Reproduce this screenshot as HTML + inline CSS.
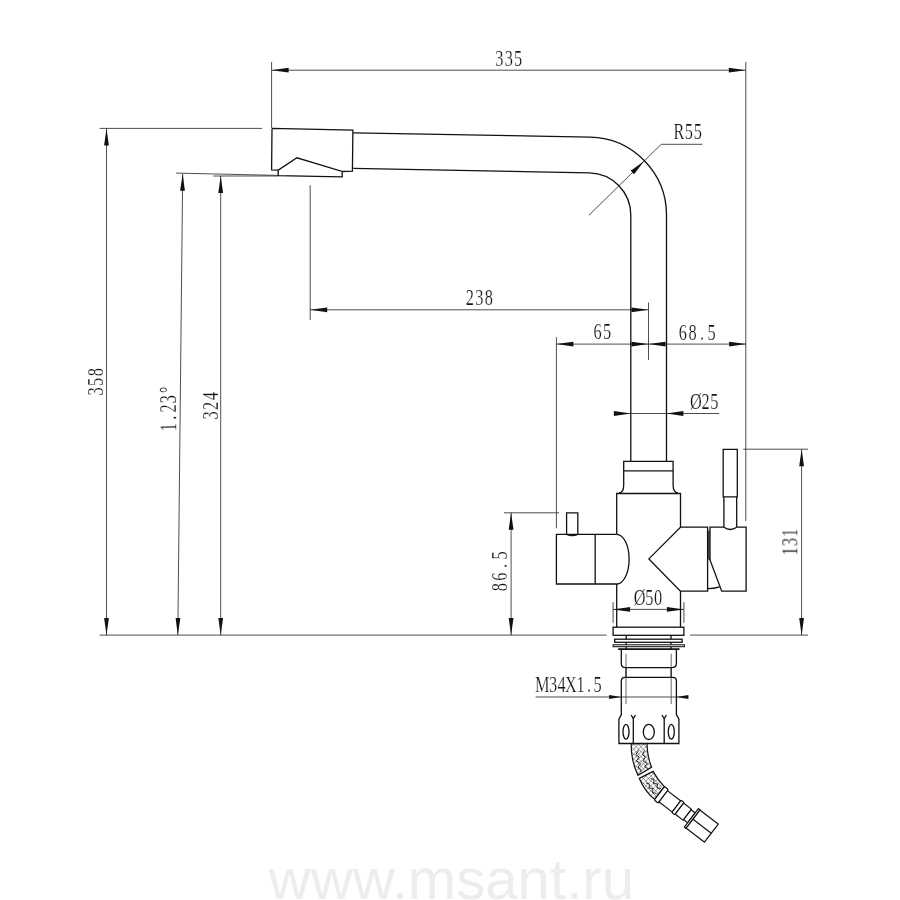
<!DOCTYPE html>
<html lang="ru"><head><meta charset="utf-8"><title>msant.ru</title>
<style>
html,body{margin:0;padding:0;background:#fff;}
body{width:900px;height:900px;overflow:hidden;}
svg{display:block;}
.m{fill:none;stroke:#111;stroke-width:1.3;stroke-linejoin:miter;stroke-linecap:butt;}
.mw{fill:#fff;stroke:#111;stroke-width:1.2;}
.d{fill:none;stroke:#222;stroke-width:0.8;}
.t{fill:none;stroke:#444;stroke-width:0.8;}
.a{fill:#111;stroke:none;}
.tx{font-family:"Liberation Serif",serif;font-size:24px;fill:#151515;stroke:#fff;stroke-width:.22;text-anchor:middle;opacity:.999;}
.wm{font-family:"Liberation Sans",sans-serif;font-size:57px;fill:#ededed;}
.h{fill:none;stroke:#333;stroke-width:0.5;}
</style></head><body>
<svg width="900" height="900" viewBox="0 0 900 900">
<rect width="900" height="900" fill="#fff"/>

<text class="wm" x="268.6" y="898.7" textLength="365.5" lengthAdjust="spacingAndGlyphs">www.msant.ru</text>
<g class="d">
<path d="M271.6,62 V128 M745.8,62 V521.1 M271.6,70.2 H745.8"/>
<path d="M99.6,128.4 H262.1 M106.5,128.4 V635.1"/>
<path d="M176.1,173.1 L278,175.4 M182.7,173.8 L177.8,635.1"/>
<path d="M213.2,176 H278 M220.7,176 V635.1"/>
<path d="M99.6,635.1 H606.6 M690.1,635.1 H808"/>
<path d="M310.2,185.3 V320 M310.2,309.8 H648.5 M648.5,302.5 V360"/>
<path d="M556.4,337.2 V528.2 M556.4,344.1 H746.1"/>
<path d="M613.8,413.5 H719.2"/>
<path d="M504,512.8 H559.1 M511.1,512.8 V635.1"/>
<path d="M613.1,602.2 V622.8 M683.9,602.2 V622.8 M613.1,609.4 H683.9"/>
<path d="M743.2,449.2 H808 M801.6,449.2 V635"/>
<path d="M535.6,697 H688.2"/>
<path d="M702.4,144.3 H661.2 L589,215.2"/>
</g>
<g class="a">
<polygon points="271.6,70.2 288.6,67.8 288.6,72.6"/>
<polygon points="745.8,70.2 728.8,72.6 728.8,67.8"/>
<polygon points="106.5,128.4 108.9,145.4 104.1,145.4"/>
<polygon points="106.5,635.1 104.1,618.1 108.9,618.1"/>
<polygon points="182.7,173.8 184.9,190.8 180.1,190.8"/>
<polygon points="177.8,635.1 175.6,618.1 180.4,618.1"/>
<polygon points="220.7,176.0 223.1,193.0 218.3,193.0"/>
<polygon points="220.7,635.1 218.3,618.1 223.1,618.1"/>
<polygon points="310.2,309.8 327.2,307.4 327.2,312.2"/>
<polygon points="648.5,309.8 631.5,312.2 631.5,307.4"/>
<polygon points="556.4,344.1 573.4,341.7 573.4,346.5"/>
<polygon points="648.5,344.1 631.5,346.5 631.5,341.7"/>
<polygon points="648.5,344.1 665.5,341.7 665.5,346.5"/>
<polygon points="746.1,344.1 729.1,346.5 729.1,341.7"/>
<polygon points="630.9,413.5 613.9,415.9 613.9,411.1"/>
<polygon points="666.4,413.5 683.4,411.1 683.4,415.9"/>
<polygon points="511.1,512.8 513.5,529.8 508.7,529.8"/>
<polygon points="511.1,635.1 508.7,618.1 513.5,618.1"/>
<polygon points="613.1,609.4 630.1,607.0 630.1,611.8"/>
<polygon points="683.9,609.4 666.9,611.8 666.9,607.0"/>
<polygon points="801.6,449.2 804.0,466.2 799.2,466.2"/>
<polygon points="801.6,635.0 799.2,618.0 804.0,618.0"/>
<polygon points="621.3,697.0 609.1,699.0 609.1,695.0"/>
<polygon points="676.4,697.0 688.4,695.0 688.4,699.0"/>
<polygon points="644.2,160.9 634.1,174.2 630.7,170.7"/>
</g>
<g class="tx">
<text transform="translate(508.8,65.5) scale(0.68,1)" x="-13.8 0.0 13.8" y="0">335</text>
<text transform="translate(479.3,305.0) scale(0.68,1)" x="-14.1 0.0 14.1" y="0">238</text>
<text transform="translate(602.3,339.0) scale(0.68,1)" x="-7.1 7.1" y="0">65</text>
<text transform="translate(697.3,339.5) scale(0.68,1)" x="-21.1 -7.0 7.0 21.1" y="0">68.5</text>
<text transform="translate(704.7,408.6) scale(0.68,1)" x="-12.9 1.4 14.3" y="0">Ø25</text>
<text transform="translate(648.4,604.7) scale(0.68,1)" x="-12.9 1.4 14.3" y="0">Ø50</text>
<text transform="translate(688.0,139.3) scale(0.68,1)" x="-13.3 1.2 14.5" y="0">R55</text>
<text transform="translate(568.7,692.2) scale(0.68,1)" x="-39.0 -23.0 -10.5 3.4 17.4 29.9 42.4" y="0">M34X1.5</text>
<text transform="translate(103.1,381.8) rotate(-90) scale(0.68,1)" x="-14.2 0.0 14.2" y="0">358</text>
<text transform="translate(176.0,408.4) rotate(-90.6) scale(0.68,1)" x="-27.5 -13.7 -0.0 13.7 27.5" y="0">1.23°</text>
<text transform="translate(218.0,405.8) rotate(-90) scale(0.68,1)" x="-14.0 0.0 14.0" y="0">324</text>
<text transform="translate(507.0,571.3) rotate(-90) scale(0.68,1)" x="-23.3 -7.8 7.8 23.3" y="0">86.5</text>
<text transform="translate(797.3,542.0) rotate(-90) scale(0.68,1)" x="-13.5 0.0 13.5" y="0">131</text>
</g>
<g class="m">
<path d="M272,128.4 L352.9,130.2 L352.4,171.1 L342.2,171.5 M278.2,170.2 L271.6,169.9 L272,128.4"/>
<path d="M278.2,170.2 V175.6 L342.2,176.8 V171.5 L296.9,157.8 Z"/>
<path d="M353.3,132.9 L590,137.1 A78,78 0 0 1 666.5,215.1 V461.3"/>
<path d="M353.3,168.4 L589.3,172.8 A42.3,42.3 0 0 1 630.8,215.1 V461.3"/>
<path d="M623.7,485 V461.3 H673.1 V485 M623.7,470.8 H673.1"/>
<path d="M623.7,485 Q623.7,492.8 619,492.8 M673.1,485 Q673.1,492.8 678,492.8"/>
<path d="M616.7,534.3 V493.5 H680.5 V527.2 L648.9,558.9 L680.5,591.2 V626.9 M616.7,584 V626.9"/>
<path d="M616.7,534.3 H556.4 V584 H616.7 M595.2,534.3 V584" />
<path d="M616.7,534.3 A12.4,24.85 0 0 1 616.7,584"/>
<path d="M566.6,534.3 V512.8 H577.8 V534.3 M566.6,534.3 Q572.2,537 577.8,534.3"/>
<path d="M680.5,527.2 H707.6 V591.2 H680.5"/>
<path d="M723.9,527.2 H710 V560 L721.7,591.2 H746.1 V527.2 H736.7"/>
<path d="M723.9,527.2 Q730.3,531.8 736.7,527.2 M708.9,530.6 V558.5 L710,560 M707.6,588.7 Q714,588.6 719.6,586.8"/>
<path d="M723.2,449.3 H737.3 V496.8 H723.2 Z M723.9,496.8 V527.2 M736.7,496.8 V527.2"/>
<rect x="613.1" y="627.2" width="70.8" height="8.1"/>
<path d="M626.2,635.3 V649 M671,635.3 V649" style="stroke-width:1.3"/>
<rect x="614.7" y="639.2" width="67.4" height="3.1" style="fill:#fff;stroke-width:1.3"/>
<rect x="613.1" y="644.8" width="71.3" height="1.9" style="fill:#fff;stroke-width:1.05"/>
<path d="M618.2,649.1 H679.5" style="stroke-width:1.85"/>
<path d="M621.3,649.8 V663.5 Q621.3,667.7 626,667.7 H671.2 Q676.4,667.7 676.4,663.5 V649.8 M626,667.7 V677.4 M671.2,667.7 V677.4"/>
<path d="M621.3,714.6 V681 Q621.3,677.4 624.9,677.4 H672.8 Q676.4,677.4 676.4,681 V714.6 L678.9,719.1 V743.5 H618.9 V719.1 Z"/>
<path d="M633.3,743.5 V718.7 L631.2,715 M633.3,718.7 L635.5,715 M664.2,743.5 V718.7 L662,715 M664.2,718.7 L666.4,715"/>
<ellipse cx="626" cy="731.7" rx="3" ry="7.4"/><ellipse cx="648.8" cy="731.9" rx="5.5" ry="7.6"/><ellipse cx="671.3" cy="731.7" rx="3" ry="7.4"/>
</g>
<g class="t"><path d="M626,653.9 V704 M671.2,653.9 V704"/></g>
<defs><clipPath id="ca"><path d="M631.2,743.6 C631.0,755 633,765 637.9,775.3 L651.6,767.2 C648.5,760 647.2,752 647,743.6 Z"/></clipPath><clipPath id="cb"><path d="M639.3,778.4 C643,787 648,794 654.7,799.4 L664.4,786.6 C659.5,782 656,777 653.1,771.4 Z"/></clipPath></defs>
<g clip-path="url(#ca)" class="h"><path d="M453.0,740 l70,70 M535.0,740 l-70,70 M457.9,740 l70,70 M539.9,740 l-70,70 M462.8,740 l70,70 M544.8,740 l-70,70 M467.7,740 l70,70 M549.7,740 l-70,70 M472.6,740 l70,70 M554.6,740 l-70,70 M477.5,740 l70,70 M559.5,740 l-70,70 M482.4,740 l70,70 M564.4,740 l-70,70 M487.3,740 l70,70 M569.3,740 l-70,70 M492.2,740 l70,70 M574.2,740 l-70,70 M497.1,740 l70,70 M579.1,740 l-70,70 M502.0,740 l70,70 M584.0,740 l-70,70 M506.9,740 l70,70 M588.9,740 l-70,70 M511.8,740 l70,70 M593.8,740 l-70,70 M516.7,740 l70,70 M598.7,740 l-70,70 M521.6,740 l70,70 M603.6,740 l-70,70 M526.5,740 l70,70 M608.5,740 l-70,70 M531.4,740 l70,70 M613.4,740 l-70,70 M536.3,740 l70,70 M618.3,740 l-70,70 M541.2,740 l70,70 M623.2,740 l-70,70 M546.1,740 l70,70 M628.1,740 l-70,70 M551.0,740 l70,70 M633.0,740 l-70,70 M555.9,740 l70,70 M637.9,740 l-70,70 M560.8,740 l70,70 M642.8,740 l-70,70 M565.7,740 l70,70 M647.7,740 l-70,70 M570.6,740 l70,70 M652.6,740 l-70,70 M575.5,740 l70,70 M657.5,740 l-70,70 M580.4,740 l70,70 M662.4,740 l-70,70 M585.3,740 l70,70 M667.3,740 l-70,70 M590.2,740 l70,70 M672.2,740 l-70,70 M595.1,740 l70,70 M677.1,740 l-70,70 M600.0,740 l70,70 M682.0,740 l-70,70 M604.9,740 l70,70 M686.9,740 l-70,70 M609.8,740 l70,70 M691.8,740 l-70,70 M614.7,740 l70,70 M696.7,740 l-70,70 M619.6,740 l70,70 M701.6,740 l-70,70 M624.5,740 l70,70 M706.5,740 l-70,70 M629.4,740 l70,70 M711.4,740 l-70,70 M634.3,740 l70,70 M716.3,740 l-70,70 M639.2,740 l70,70 M721.2,740 l-70,70 M644.1,740 l70,70 M726.1,740 l-70,70 M649.0,740 l70,70 M731.0,740 l-70,70 M653.9,740 l70,70 M735.9,740 l-70,70 M658.8,740 l70,70 M740.8,740 l-70,70 M663.7,740 l70,70 M745.7,740 l-70,70 M668.6,740 l70,70 M750.6,740 l-70,70 M673.5,740 l70,70 M755.5,740 l-70,70 M678.4,740 l70,70 M760.4,740 l-70,70 M683.3,740 l70,70 M765.3,740 l-70,70 M688.2,740 l70,70 M770.2,740 l-70,70 M693.1,740 l70,70 M775.1,740 l-70,70 M698.0,740 l70,70 M780.0,740 l-70,70 M702.9,740 l70,70 M784.9,740 l-70,70 M707.8,740 l70,70 M789.8,740 l-70,70 M712.7,740 l70,70 M794.7,740 l-70,70 M717.6,740 l70,70 M799.6,740 l-70,70 M722.5,740 l70,70 M804.5,740 l-70,70 M727.4,740 l70,70 M809.4,740 l-70,70 M732.3,740 l70,70 M814.3,740 l-70,70 M737.2,740 l70,70 M819.2,740 l-70,70 M742.1,740 l70,70 M824.1,740 l-70,70 M747.0,740 l70,70 M829.0,740 l-70,70 M751.9,740 l70,70 M833.9,740 l-70,70 M756.8,740 l70,70 M838.8,740 l-70,70 M761.7,740 l70,70 M843.7,740 l-70,70 M766.6,740 l70,70 M848.6,740 l-70,70 M771.5,740 l70,70 M853.5,740 l-70,70 M776.4,740 l70,70 M858.4,740 l-70,70 M781.3,740 l70,70 M863.3,740 l-70,70 M786.2,740 l70,70 M868.2,740 l-70,70 M791.1,740 l70,70 M873.1,740 l-70,70 "/></g>
<g clip-path="url(#cb)" class="h"><path d="M453.0,740 l70,70 M535.0,740 l-70,70 M457.9,740 l70,70 M539.9,740 l-70,70 M462.8,740 l70,70 M544.8,740 l-70,70 M467.7,740 l70,70 M549.7,740 l-70,70 M472.6,740 l70,70 M554.6,740 l-70,70 M477.5,740 l70,70 M559.5,740 l-70,70 M482.4,740 l70,70 M564.4,740 l-70,70 M487.3,740 l70,70 M569.3,740 l-70,70 M492.2,740 l70,70 M574.2,740 l-70,70 M497.1,740 l70,70 M579.1,740 l-70,70 M502.0,740 l70,70 M584.0,740 l-70,70 M506.9,740 l70,70 M588.9,740 l-70,70 M511.8,740 l70,70 M593.8,740 l-70,70 M516.7,740 l70,70 M598.7,740 l-70,70 M521.6,740 l70,70 M603.6,740 l-70,70 M526.5,740 l70,70 M608.5,740 l-70,70 M531.4,740 l70,70 M613.4,740 l-70,70 M536.3,740 l70,70 M618.3,740 l-70,70 M541.2,740 l70,70 M623.2,740 l-70,70 M546.1,740 l70,70 M628.1,740 l-70,70 M551.0,740 l70,70 M633.0,740 l-70,70 M555.9,740 l70,70 M637.9,740 l-70,70 M560.8,740 l70,70 M642.8,740 l-70,70 M565.7,740 l70,70 M647.7,740 l-70,70 M570.6,740 l70,70 M652.6,740 l-70,70 M575.5,740 l70,70 M657.5,740 l-70,70 M580.4,740 l70,70 M662.4,740 l-70,70 M585.3,740 l70,70 M667.3,740 l-70,70 M590.2,740 l70,70 M672.2,740 l-70,70 M595.1,740 l70,70 M677.1,740 l-70,70 M600.0,740 l70,70 M682.0,740 l-70,70 M604.9,740 l70,70 M686.9,740 l-70,70 M609.8,740 l70,70 M691.8,740 l-70,70 M614.7,740 l70,70 M696.7,740 l-70,70 M619.6,740 l70,70 M701.6,740 l-70,70 M624.5,740 l70,70 M706.5,740 l-70,70 M629.4,740 l70,70 M711.4,740 l-70,70 M634.3,740 l70,70 M716.3,740 l-70,70 M639.2,740 l70,70 M721.2,740 l-70,70 M644.1,740 l70,70 M726.1,740 l-70,70 M649.0,740 l70,70 M731.0,740 l-70,70 M653.9,740 l70,70 M735.9,740 l-70,70 M658.8,740 l70,70 M740.8,740 l-70,70 M663.7,740 l70,70 M745.7,740 l-70,70 M668.6,740 l70,70 M750.6,740 l-70,70 M673.5,740 l70,70 M755.5,740 l-70,70 M678.4,740 l70,70 M760.4,740 l-70,70 M683.3,740 l70,70 M765.3,740 l-70,70 M688.2,740 l70,70 M770.2,740 l-70,70 M693.1,740 l70,70 M775.1,740 l-70,70 M698.0,740 l70,70 M780.0,740 l-70,70 M702.9,740 l70,70 M784.9,740 l-70,70 M707.8,740 l70,70 M789.8,740 l-70,70 M712.7,740 l70,70 M794.7,740 l-70,70 M717.6,740 l70,70 M799.6,740 l-70,70 M722.5,740 l70,70 M804.5,740 l-70,70 M727.4,740 l70,70 M809.4,740 l-70,70 M732.3,740 l70,70 M814.3,740 l-70,70 M737.2,740 l70,70 M819.2,740 l-70,70 M742.1,740 l70,70 M824.1,740 l-70,70 M747.0,740 l70,70 M829.0,740 l-70,70 M751.9,740 l70,70 M833.9,740 l-70,70 M756.8,740 l70,70 M838.8,740 l-70,70 M761.7,740 l70,70 M843.7,740 l-70,70 M766.6,740 l70,70 M848.6,740 l-70,70 M771.5,740 l70,70 M853.5,740 l-70,70 M776.4,740 l70,70 M858.4,740 l-70,70 M781.3,740 l70,70 M863.3,740 l-70,70 M786.2,740 l70,70 M868.2,740 l-70,70 M791.1,740 l70,70 M873.1,740 l-70,70 "/></g>
<g class="m" style="stroke-width:1.2"><path d="M631.2,743.6 C631.0,755 633,765 637.9,775.3 L651.6,767.2 C648.5,760 647.2,752 647,743.6 Z"/><path d="M639.3,778.4 C643,787 648,794 654.7,799.4 L664.4,786.6 C659.5,782 656,777 653.1,771.4 Z"/></g>
<g class="m" style="stroke-width:1;stroke:#222">
<path d="M638.7,750.4 L635.8,754.5 L639.3,757.1 L636.4,760.7 L640.7,763.7 L637.9,767.2 L641.4,769.9 L639.9,772.2"/>
<path d="M644.6,750.4 L642.4,754.5 L645.3,757.1 L643,760.7 L647.3,763.7 L644.6,766.8 L647.7,768.7"/>
<path d="M646,783 L649.5,784 L649,788 L653,788.5 L652.5,792.5 L656.5,793.5"/>
<path d="M650.5,778.5 L654,779.5 L653.5,783.5 L657.5,784 L657,788 L661,788.5"/>
</g>
<g class="mw" transform="translate(659.3,793.3) rotate(37.4)">
<rect x="0" y="-8.5" width="5" height="17" rx="1.3"/>
<rect x="5" y="-7.05" width="16.6" height="14.1"/>
<rect x="21.6" y="-7.8" width="3.7" height="15.6" rx="1.2"/>
<rect x="25.3" y="-6.9" width="10" height="13.8"/>
<rect x="35.3" y="-6.2" width="5.1" height="12.4"/>
<rect x="40.4" y="-11.6" width="2.1" height="23.2"/>
<rect x="42.5" y="-11.4" width="23" height="22.8"/>
<path d="M42.5,0.1 H65.5"/>
</g>
</svg></body></html>
